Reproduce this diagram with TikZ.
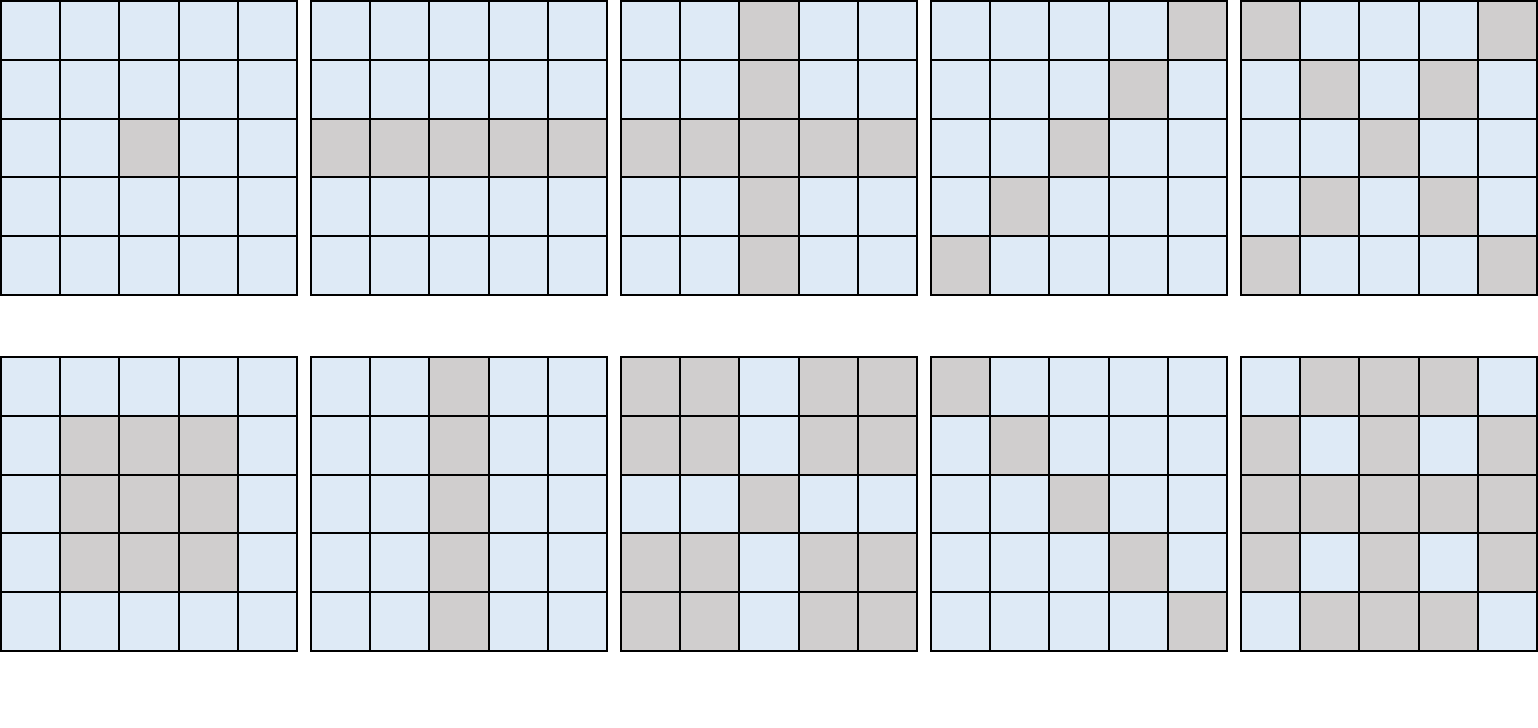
\documentclass[tikz,border=0pt]{standalone}
\definecolor{cellblue}{HTML}{DEEAF6}
\definecolor{cellgray}{HTML}{D0CECE}
\newcommand\mygrid[3]{%
  \fill[cellblue] (#1,#2) rectangle ++(296,294);
  \foreach \r/\c in {#3} {\fill[cellgray] ({#1+\c*59.2},{#2+\r*58.8}) rectangle ++(59.2,58.8);}
  \foreach \i in {0,...,5} {\draw[gridline] ({#1+\i*59.2},#2) -- ++(0,294); \draw[gridline] (#1,{#2+\i*58.8}) -- ++(296,0);}
}
\begin{document}
\begin{tikzpicture}[x=0.5pt,y=-0.5pt,gridline/.style={line width=1pt,black,line cap=rect}]
\useasboundingbox (0,0) rectangle (1538,728);
\fill[white] (0,0) rectangle (1538,728);
% row 1
\mygrid{1}{1}{2/2}
\mygrid{311}{1}{2/0,2/1,2/2,2/3,2/4}
\mygrid{621}{1}{2/0,2/1,2/2,2/3,2/4,0/2,1/2,3/2,4/2}
\mygrid{931}{1}{0/4,1/3,2/2,3/1,4/0}
\mygrid{1241}{1}{0/0,0/4,1/1,1/3,2/2,3/1,3/3,4/0,4/4}
% row 2
\mygrid{1}{357}{1/1,1/2,1/3,2/1,2/2,2/3,3/1,3/2,3/3}
\mygrid{311}{357}{0/2,1/2,2/2,3/2,4/2}
\mygrid{621}{357}{0/0,0/1,0/3,0/4,1/0,1/1,1/3,1/4,2/2,3/0,3/1,3/3,3/4,4/0,4/1,4/3,4/4}
\mygrid{931}{357}{0/0,1/1,2/2,3/3,4/4}
\mygrid{1241}{357}{0/1,0/2,0/3,1/0,1/2,1/4,2/0,2/1,2/2,2/3,2/4,3/0,3/2,3/4,4/1,4/2,4/3}
\end{tikzpicture}
\end{document}
